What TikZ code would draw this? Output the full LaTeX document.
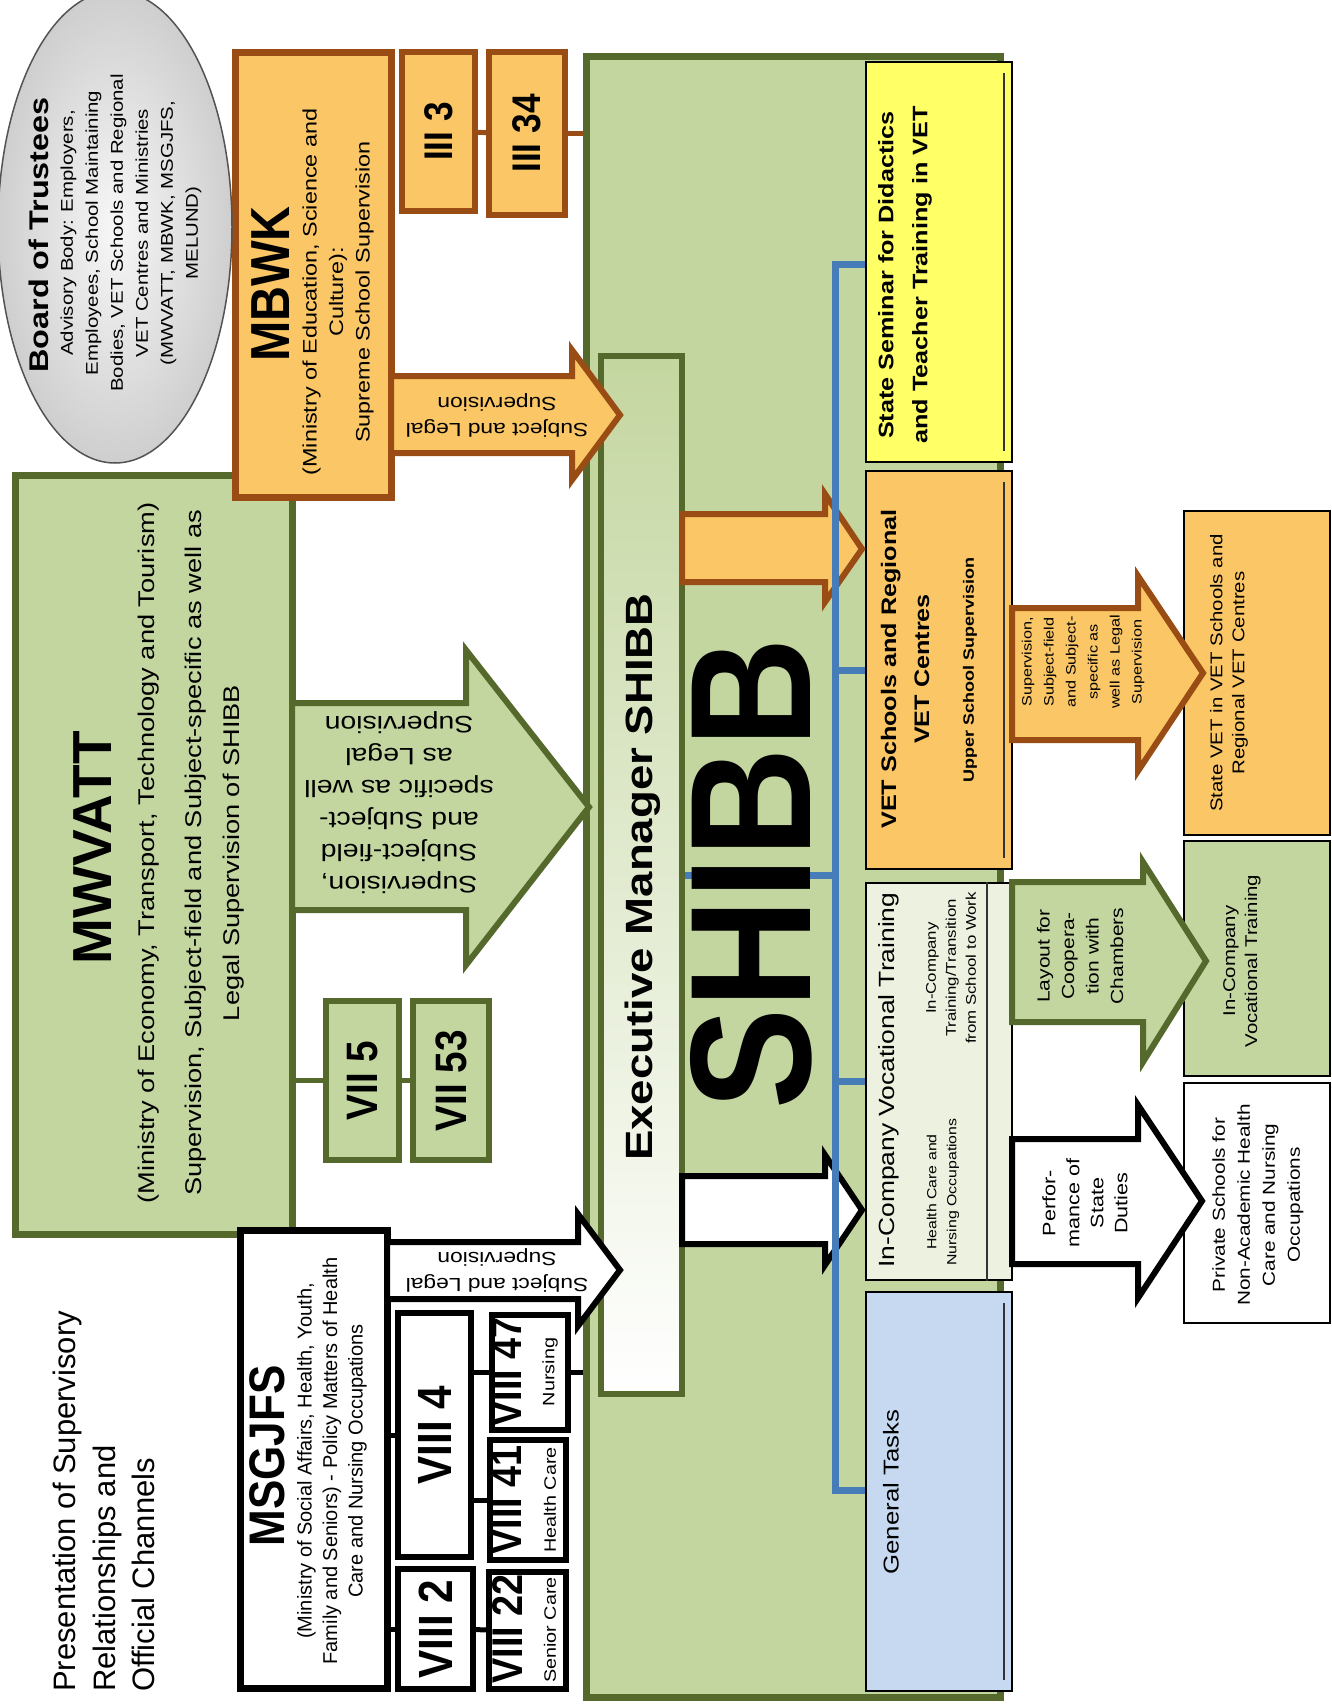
\documentclass[tikz,border=0pt]{standalone}
\usepackage{fontspec}
\setmainfont{Liberation Sans}
\newfontfamily\widesans{Liberation Sans}[FakeStretch=1.2]
\newfontfamily\narrowsans{Liberation Sans}[FakeStretch=0.88]
\usepackage{tikz}
\usetikzlibrary{fit,positioning,shapes.geometric}

\definecolor{orfill}{RGB}{250,198,102}
\definecolor{orline}{RGB}{153,77,20}
\definecolor{grfill}{RGB}{196,214,160}
\definecolor{grline}{RGB}{85,105,45}
\definecolor{yefill}{RGB}{255,255,102}
\definecolor{blfill}{RGB}{198,217,240}
\definecolor{busblue}{RGB}{70,125,185}
\definecolor{icfill}{RGB}{236,241,224}

\newcommand{\fs}[2]{\fontsize{#1}{#2}\selectfont}

\tikzset{
  box/.style={draw, rectangle, inner sep=0pt},
  orbox/.style={box, fill=orfill, draw=orline, line width=6pt},
  grbox/.style={box, fill=grfill, draw=grline, line width=6pt},
  bkbox/.style={box, fill=white, draw=black, line width=6pt},
  thinbox/.style={box, draw=black, line width=2pt},
  txt/.style={rotate=90, align=center, inner sep=0pt},
  udtxt/.style={rotate=180, align=center, inner sep=0pt},
  orarrow/.style={fill=orfill, draw=orline, line width=6pt},
  grarrow/.style={fill=grfill, draw=grline, line width=6pt},
  bkarrow/.style={fill=white, draw=black, line width=6pt},
  busline/.style={draw=busblue, line width=7pt},
  brlink/.style={draw=orline, line width=5pt},
  grlink/.style={draw=grline, line width=5pt},
  bklink/.style={draw=black, line width=5pt},
  innerline/.style={draw=black!80, line width=2pt}
}

\begin{document}
\begin{tikzpicture}[x=1pt, y=-1pt]
  \useasboundingbox (0,0) rectangle (1331,1705);

  \node[grbox, line width=7pt, fit={(586,56) (1000,1697)}] (shibb) {};
  \node[grbox, line width=7pt, fit={(15,475) (292,1234)}] (mwvatt) {};
  \node[orbox, line width=7pt, fit={(235,52) (391,497)}] (mbwk) {};
  \node[orbox, fit={(402,52) (475,211)}] (iii3) {};
  \node[orbox, fit={(489,52) (565,215)}] (iii34) {};
  \node[grbox, fit={(326,1001) (399,1160)}] (vii5) {};
  \node[grbox, fit={(413,1001) (489,1160)}] (vii53) {};
  \node[bkbox, line width=7pt, fit={(240,1230) (387,1688)}] (msgjfs) {};
  \node[bkbox, fit={(398,1313) (471,1557)}] (viii4) {};
  \node[bkbox, fit={(398,1569) (473,1689)}] (viii2) {};
  \node[bkbox, fit={(492,1315) (568,1430)}] (viii47) {};
  \node[bkbox, fit={(490,1440) (566,1560)}] (viii41) {};
  \node[bkbox, fit={(489,1572) (566,1689)}] (viii22) {};

  \node[ellipse, draw=gray!65!black, line width=1.5pt, inner color=gray!6, outer color=gray!38,
        minimum width=234pt, minimum height=472pt] (board) at (115,227) {};

  \node[box, draw=grline, line width=6pt, top color=grfill, middle color=grfill!75!white, bottom color=white,
        fit={(601,356) (682,1394)}] (exec) {};

  \node[thinbox, fill=yefill, fit={(866,62) (1012,462)}] (stsem) {};
  \node[thinbox, fill=orfill, fit={(866,471) (1012,869)}] (vet) {};
  \node[thinbox, fill=icfill, fit={(866,883) (1012,1280)}] (incomp) {};
  \node[thinbox, fill=blfill, fit={(866,1292) (1012,1691)}] (gentask) {};
  \node[thinbox, fill=orfill, fit={(1184,511) (1330,835)}] (statevet) {};
  \node[thinbox, fill=grfill, fit={(1184,841) (1330,1076)}] (incompvt) {};
  \node[thinbox, fill=white, fit={(1184,1083) (1330,1323)}] (private) {};

  \draw[orarrow] (391,376) -- (572,376) -- (572,350) -- (620,415) -- (572,480) -- (572,453) -- (391,453) -- cycle;
  \draw[grarrow] (292,703) -- (466,703) -- (466,650) -- (589,807) -- (466,965) -- (466,910) -- (292,910) -- cycle;
  \draw[bkarrow] (387,1242) -- (578,1242) -- (578,1214) -- (620,1270) -- (578,1326) -- (578,1299) -- (387,1299) -- cycle;
  \draw[orarrow] (682,514) -- (825,514) -- (825,494) -- (862,549) -- (825,602) -- (825,582) -- (682,582) -- cycle;
  \draw[bkarrow] (682,1176) -- (825,1176) -- (825,1155) -- (862,1210) -- (825,1265) -- (825,1244) -- (682,1244) -- cycle;
  \draw[orarrow] (1012,608) -- (1138,608) -- (1138,576) -- (1203,673) -- (1138,771) -- (1138,740) -- (1012,740) -- cycle;
  \draw[grarrow] (1012,882) -- (1143,882) -- (1143,862) -- (1206,961) -- (1143,1062) -- (1143,1022) -- (1012,1022) -- cycle;
  \draw[bkarrow] (1012,1139) -- (1138,1139) -- (1138,1105) -- (1202,1201) -- (1138,1298) -- (1138,1264) -- (1012,1264) -- cycle;

  \coordinate (bustop) at (835,264);
  \coordinate (busbot) at (835,1490);
  \draw[busline] (stsem.west |- bustop) -- (bustop) -- (busbot) -- (gentask.west |- busbot);
  \draw[busline] (vet.west) -- (vet.west -| bustop);
  \draw[busline] (incomp.west) -- (incomp.west -| bustop);
  \draw[busline] (exec.east) -- (exec.east -| bustop);

  \draw[brlink] (iii3) -- (iii34);
  \draw[brlink] (iii34) -- (iii34 -| shibb.west);
  \draw[grlink] (vii5) -- (vii5 -| mwvatt.east);
  \draw[grlink] (vii5) -- (vii53);
  \draw[bklink] (viii4) -- (viii4 -| msgjfs.east);
  \draw[bklink] (viii2) -- (viii2 -| msgjfs.east);
  \draw[bklink] (viii47) -- (viii47 -| viii4.east);
  \draw[bklink] (viii41) -- (viii41 -| viii4.east);
  \draw[bklink] (viii22) -- (viii2);
  \draw[bklink] (viii47) -- (viii47 -| shibb.west);

  \draw[innerline] ([xshift=-9pt,yshift=-12pt]stsem.north east) -- ([xshift=-9pt,yshift=12pt]stsem.south east);
  \draw[innerline] ([xshift=-9pt,yshift=-12pt]vet.north east) -- ([xshift=-9pt,yshift=12pt]vet.south east);
  \draw[innerline] ([xshift=-9pt,yshift=-12pt]gentask.north east) -- ([xshift=-9pt,yshift=12pt]gentask.south east);
  \draw[innerline] ([xshift=-26pt]incomp.north east) -- ([xshift=-26pt]incomp.south east);

  \node[txt, anchor=west, align=left, font=\fs{31}{39.5}] (title) at (104,1692)
    {Presentation of Supervisory\\Relationships and\\Official Channels};

  \node[txt, font=\widesans\bfseries\fs{27}{30}] (boardhd) at (39,235) {Board of Trustees};
  \node[txt, font=\widesans\fs{17}{25}] (boardtx) at (131,233)
    {Advisory Body: Employers,\\Employees, School Maintaining\\Bodies, VET Schools and Regional\\VET Centres and Ministries\\(MWVATT, MBWK, MSGJFS,\\MELUND)};

  \node[txt, font=\narrowsans\bfseries\fs{55}{58}] (mbwkhd) at (271,284) {MBWK};
  \node[txt, font=\widesans\fs{19.5}{26.5}] (mbwktx) at (338,292)
    {(Ministry of Education, Science and\\Culture):\\Supreme School Supervision};
  \node[txt, font=\narrowsans\bfseries\fs{40}{44}] (iii3tx) at (iii3) {III 3};
  \node[txt, font=\narrowsans\bfseries\fs{40}{44}] (iii34tx) at (iii34) {III 34};
  \node[udtxt, font=\widesans\fs{19}{26}] (mbwkarr) at (497,415) {Subject and Legal\\Supervision};

  \node[txt, font=\bfseries\fs{55}{60}] (mwvatthd) at (93,848) {MWVATT};
  \node[txt, font=\widesans\fs{22.7}{30}] (mwvattmin) at (149,853)
    {(Ministry of Economy, Transport, Technology and Tourism)};
  \node[txt, font=\widesans\fs{22.7}{38}] (mwvatttx) at (215,853)
    {Supervision, Subject-field and Subject-specific as well as\\Legal Supervision of SHIBB};
  \node[udtxt, font=\widesans\fs{23.7}{32}] (mwvattarr) at (399,803)
    {Supervision,\\Subject-field\\and Subject-\\specific as well\\as Legal\\Supervision};
  \node[txt, font=\narrowsans\bfseries\fs{44}{48}] (vii5tx) at (vii5) {VII 5};
  \node[txt, font=\narrowsans\bfseries\fs{44}{48}] (vii53tx) at (vii53) {VII 53};

  \node[txt, font=\narrowsans\bfseries\fs{50}{54}] (msgjfshd) at (267,1456) {MSGJFS};
  \node[txt, font=\fs{20}{25.5}] (msgjfstx) at (332,1461)
    {(Ministry of Social Affairs, Health, Youth,\\Family and Seniors) - Policy Matters of Health\\Care and Nursing Occupations};
  \node[udtxt, font=\widesans\fs{19}{26}] (msgjfsarr) at (497,1270) {Subject and Legal\\Supervision};
  \node[txt, font=\narrowsans\bfseries\fs{48}{52}] (viii4tx) at (viii4) {VIII 4};
  \node[txt, font=\narrowsans\bfseries\fs{48}{52}] (viii2tx) at (viii2) {VIII 2};
  \node[txt, font=\narrowsans\bfseries\fs{43}{46}] (viii47tx) at (507,1372) {VIII 47};
  \node[txt, font=\narrowsans\bfseries\fs{43}{46}] (viii41tx) at (507,1500) {VIII 41};
  \node[txt, font=\narrowsans\bfseries\fs{43}{46}] (viii22tx) at (507,1629) {VIII 22};
  \node[txt, font=\widesans\fs{16.5}{20}] (viii47sub) at (550,1372) {Nursing};
  \node[txt, font=\widesans\fs{16.5}{20}] (viii41sub) at (550,1500) {Health Care};
  \node[txt, font=\widesans\fs{16.5}{20}] (viii22sub) at (550,1630) {Senior Care};

  \node[txt, font=\widesans\bfseries\fs{38}{42}] (exectx) at (643,877) {Executive Manager SHIBB};
  \node[txt, font=\narrowsans\bfseries\fs{172}{180}] (shibbtx) at (751,874) {SHIBB};

  \node[txt, font=\widesans\bfseries\fs{21}{34}] (stsemtx) at (905,275)
    {State Seminar for Didactics\\and Teacher Training in VET};
  \node[txt, font=\widesans\bfseries\fs{21}{33}] (vettx) at (905,669) {VET Schools and Regional\\VET Centres};
  \node[txt, font=\widesans\bfseries\fs{15}{18}] (vetup) at (970,670) {Upper School Supervision};
  \node[txt, font=\widesans\fs{22}{26}] (incomptx) at (889,1080) {In-Company Vocational Training};
  \node[txt, font=\widesans\fs{13.2}{20}] (incomphc) at (943,1192) {Health Care and\\Nursing Occupations};
  \node[txt, font=\widesans\fs{14}{20}] (incomptr) at (951,968) {In-Company\\Training/Transition\\from School to Work};
  \node[txt, font=\widesans\fs{21.5}{26}] (gentasktx) at (891,1492) {General Tasks};

  \node[txt, font=\widesans\fs{13.5}{22}] (vetarr) at (1083,662)
    {Supervision,\\Subject-field\\and Subject-\\specific as\\well as Legal\\Supervision};
  \node[txt, font=\widesans\fs{17}{22}] (statevettx) at (1229,673) {State VET in VET Schools and\\Regional VET Centres};
  \node[txt, font=\widesans\fs{17.5}{24.5}] (incomparr) at (1080,956) {Layout for\\Coopera-\\tion with\\Chambers};
  \node[txt, font=\widesans\fs{17}{22}] (incompvttx) at (1242,961) {In-Company\\Vocational Training};
  \node[txt, font=\widesans\fs{18}{24}] (privarr) at (1085,1203) {Perfor-\\mance of\\State\\Duties};
  \node[txt, font=\widesans\fs{17.3}{25}] (privatetx) at (1258,1205)
    {Private Schools for\\Non-Academic Health\\Care and Nursing\\Occupations};
\end{tikzpicture}
\end{document}
